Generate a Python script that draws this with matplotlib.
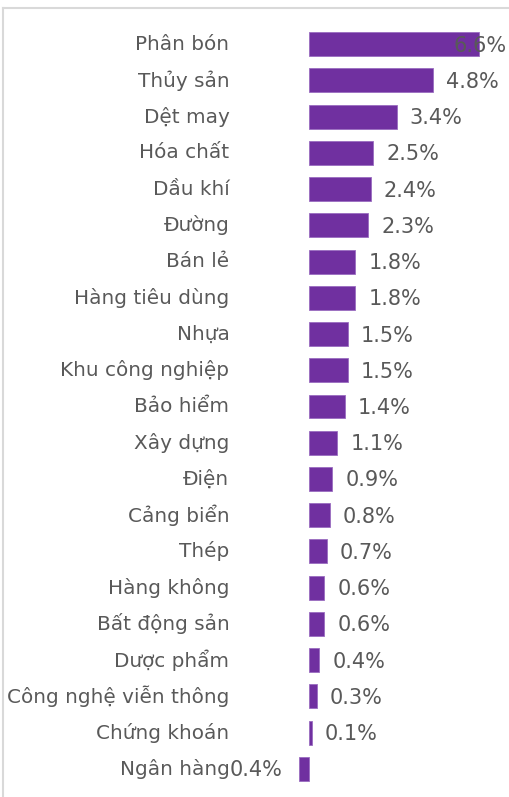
import matplotlib
matplotlib.use("Agg")
import matplotlib.pyplot as plt
from matplotlib.lines import Line2D
from matplotlib.transforms import ScaledTranslation

categories = ["Phân bón", "Thủy sản", "Dệt may", "Hóa chất", "Dầu khí", "Đường",
              "Bán lẻ", "Hàng tiêu dùng", "Nhựa", "Khu công nghiệp", "Bảo hiểm",
              "Xây dựng", "Điện", "Cảng biển", "Thép", "Hàng không", "Bất động sản",
              "Dược phẩm", "Công nghệ viễn thông", "Chứng khoán", "Ngân hàng"]
values = [6.6, 4.8, 3.4, 2.5, 2.4, 2.3, 1.8, 1.8, 1.5, 1.5, 1.4, 1.1, 0.9, 0.8,
          0.7, 0.6, 0.6, 0.4, 0.3, 0.1, -0.4]

W, H = 510, 797
DPI = 100
fig = plt.figure(figsize=(W / DPI, H / DPI), dpi=DPI)
fig.patch.set_facecolor("white")

# layout in pixels
zero_px = 309.0
px_per_unit = 25.8
ax_left_px, ax_right_px = 235.0, 505.0
ax_top_px, ax_bot_px = 26.0, 787.0

ax = fig.add_axes([ax_left_px / W, 1 - ax_bot_px / H,
                   (ax_right_px - ax_left_px) / W, (ax_bot_px - ax_top_px) / H])
ax.set_xlim((ax_left_px - zero_px) / px_per_unit, (ax_right_px - zero_px) / px_per_unit)
n = len(categories)
ax.set_ylim(n - 0.5, -0.5)

bar_color = "#7030A0"
text_color = "#595959"
fs_cat = 14.4
fs_val = 15

y = list(range(n))
ax.barh(y, values, height=0.66, color=bar_color, edgecolor="#9a6cc0", linewidth=0.6)

ax.set_yticks(y)
ax.set_yticklabels(categories, fontsize=fs_cat, color=text_color)
ax.tick_params(axis="y", length=0, pad=4)
shift_up = ScaledTranslation(0, 2 / DPI, fig.dpi_scale_trans)
for lab in ax.get_yticklabels():
    lab.set_transform(lab.get_transform() + shift_up)
ax.set_xticks([])
for s in ax.spines.values():
    s.set_visible(False)
ax.patch.set_alpha(0)

gap = 13 / px_per_unit
right_limit = (507 - zero_px) / px_per_unit
shift_down = ScaledTranslation(0, -1.5 / DPI, fig.dpi_scale_trans)
for i, v in enumerate(values):
    label = f"{abs(v):.1f}%"
    if v >= 0:
        if v + gap + 52 / px_per_unit > right_limit:
            xpos, ha = right_limit, "right"
        else:
            xpos, ha = v + gap, "left"
    else:
        xpos, ha = v - 16 / px_per_unit, "right"
    ax.text(xpos, i, label, ha=ha, va="center", fontsize=fs_val,
            color=text_color, clip_on=False, transform=ax.transData + shift_down)

# light border
bc = "#d9d9d9"
fig.add_artist(Line2D([3.5 / W, 3.5 / W], [0, 1 - 7.5 / H], transform=fig.transFigure,
                      color=bc, linewidth=1.5))
fig.add_artist(Line2D([3.5 / W, 1], [1 - 7.5 / H, 1 - 7.5 / H], transform=fig.transFigure,
                      color=bc, linewidth=1.5))

fig.savefig("out.png", dpi=DPI, facecolor="white")
